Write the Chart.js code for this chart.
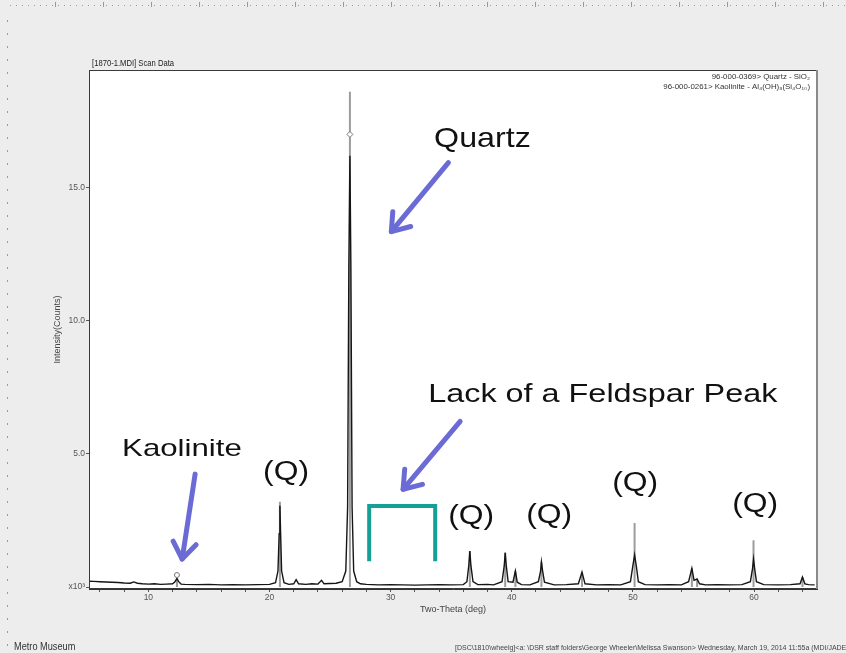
<!DOCTYPE html>
<html><head><meta charset="utf-8">
<script src="https://cdn.jsdelivr.net/npm/chart.js@4/dist/chart.umd.min.js"></script>
<style>html,body{margin:0;padding:0;background:#ededed;overflow:hidden}</style>
</head><body>
<canvas id="c" width="846" height="653"></canvas>
<script>
// ---- measured scan (Two-Theta in deg, Intensity in x10^3 counts) ----
const twoTheta = [5.0,5.5,6.0,6.5,7.0,7.5,8.0,8.5,8.8,9.1,9.5,10.0,10.5,11.0,11.5,12.0,12.2,12.36,12.5,12.7,13.0,14.0,15.0,16.0,17.0,18.0,19.0,20.0,20.5,20.7,20.8,20.86,20.92,21.0,21.2,21.6,22.0,22.2,22.4,23.0,23.5,24.0,24.3,24.5,25.0,25.5,26.0,26.3,26.45,26.55,26.64,26.72,26.82,26.95,27.2,27.5,28.0,29.0,30.0,31.0,32.0,33.0,34.0,35.0,36.0,36.3,36.45,36.54,36.63,36.8,37.2,38.0,38.5,39.2,39.38,39.46,39.55,39.7,40.1,40.3,40.45,40.8,41.5,42.2,42.38,42.45,42.55,42.7,43.5,44.5,45.5,45.8,46.05,47.0,48.0,49.0,49.8,50.0,50.14,50.28,50.45,51.0,52.0,53.0,54.0,54.6,54.87,55.05,55.3,55.5,56.0,57.0,58.0,59.0,59.7,59.88,59.96,60.05,60.2,60.8,62.0,63.0,63.8,64.0,64.2,64.5,65.0];
const intensity = [0.22,0.21,0.20,0.19,0.18,0.17,0.15,0.14,0.19,0.14,0.12,0.11,0.12,0.10,0.11,0.12,0.20,0.32,0.20,0.11,0.10,0.09,0.10,0.08,0.09,0.08,0.09,0.10,0.16,0.6,2.0,3.05,2.0,0.6,0.16,0.10,0.12,0.28,0.12,0.10,0.12,0.11,0.25,0.12,0.13,0.14,0.2,0.6,3.0,12.0,16.2,12.0,3.0,0.6,0.2,0.12,0.10,0.08,0.09,0.08,0.07,0.08,0.09,0.08,0.09,0.2,0.8,1.35,0.8,0.2,0.09,0.10,0.08,0.2,0.8,1.28,0.8,0.2,0.18,0.6,0.18,0.09,0.08,0.2,0.6,0.94,0.6,0.18,0.08,0.09,0.12,0.56,0.12,0.08,0.09,0.08,0.2,0.8,1.2,0.8,0.2,0.09,0.08,0.09,0.08,0.2,0.7,0.25,0.3,0.12,0.08,0.09,0.08,0.09,0.2,0.7,1.05,0.7,0.2,0.09,0.08,0.09,0.12,0.37,0.12,0.09,0.08];

// ---- reference lines ----
const quartzLines = [20.86,26.64,36.54,39.46,40.3,42.45,45.8,50.14,54.87,55.3,59.96,64.0];
const quartzHeights = [3.2,18.6,1.35,1.3,0.6,0.94,0.56,2.4,0.7,0.3,1.76,0.37];
const kaoliniteLines = [12.36];
const kaoliniteHeights = [0.3];
const peakMarkX = [26.64,12.36];
const peakMarkY = [17.0,0.45];

// ---- axis ticks ----
const xTicks = [6,8,10,12,14,16,18,20,22,24,26,28,30,32,34,36,38,40,42,44,46,48,50,52,54,56,58,60,62,64];
const xLabelled = [10,20,30,40,50,60];
const yTicks = [0,5,10,15];
const yTickLabels = ['x10³','5.0','10.0','15.0'];

// ---- annotations (data coordinates) ----
const noteTexts = ['Quartz','Kaolinite','Lack of a Feldspar Peak','(Q)','(Q)','(Q)','(Q)','(Q)'];
const noteX = [33.59,7.83,33.10,19.47,34.75,41.19,48.29,58.20];
const noteY = [16.54,4.91,6.94,4.01,2.36,2.40,3.60,2.81];
const arrowFromX = [34.77,35.74,13.86];
const arrowFromY = [15.94,6.22,4.24];
const arrowToX = [30.06,31.03,12.79];
const arrowToY = [13.35,3.67,1.05];
const bracketX = [28.23,33.68];
const bracketY = [0.97,3.04];

const headerTitle = '[1870-1.MDI] Scan Data';
const legendLines = ['96-000-0369> Quartz - SiO₂','96-000-0261> Kaolinite - Al₄(OH)₈(Si₄O₁₀)'];
const yTitle = 'Intensity(Counts)';
const xTitle = 'Two-Theta (deg)';
const footerLeft = 'Metro Museum';
const footerRight = '[DSC\\1810\\wheelg]<a: \\DSR staff folders\\George Wheeler\\Melissa Swanson> Wednesday, March 19, 2014 11:55a (MDI/JADE';

const scanData = twoTheta.map((x,i)=>({x, y: intensity[i]}));
const sticks = [];
quartzLines.forEach((x,i)=>{ sticks.push({x,y:0},{x,y:quartzHeights[i]},{x,y:null}); });
kaoliniteLines.forEach((x,i)=>{ sticks.push({x,y:0},{x,y:kaoliniteHeights[i]},{x,y:null}); });
const marks = peakMarkX.map((x,i)=>({x,y:peakMarkY[i]}));

const SANS = '"Liberation Sans", Arial, sans-serif';

function txt(ctx, s, x, y, size, sx, align, color){
  ctx.save();
  ctx.font = size + 'px ' + SANS;
  ctx.fillStyle = color || '#111';
  ctx.textBaseline = 'alphabetic';
  const w = ctx.measureText(s).width * sx;
  let x0 = x;
  if (align === 'right') x0 = x - w;
  if (align === 'center') x0 = x - w/2;
  ctx.translate(x0, y);
  ctx.scale(sx, 1);
  ctx.fillText(s, 0, 0);
  ctx.restore();
}

const decor = {
  id: 'decor',
  beforeDraw(chart){
    const ctx = chart.ctx, a = chart.chartArea;
    ctx.save();
    ctx.fillStyle = '#ededed';
    ctx.fillRect(0,0,chart.width,chart.height);
    ctx.fillStyle = '#ffffff';
    ctx.fillRect(a.left, a.top, a.right-a.left, a.bottom-a.top);
    // dotted rulers
    ctx.fillStyle = '#9a9a9a';
    for (let x = 10; x < chart.width; x += 6) ctx.fillRect(x, 5, 1, 1);
    for (let x = 55; x < chart.width; x += 48) ctx.fillRect(x, 2, 1, 5);
    for (let y = 20; y < chart.height; y += 13) ctx.fillRect(7, y, 1, 2);
    ctx.restore();
  },
  afterDatasetsDraw(chart){
    const ctx = chart.ctx, a = chart.chartArea;
    const xs = chart.scales.x, ys = chart.scales.y;
    ctx.save();
    // frame
    ctx.strokeStyle = '#3a3a3a'; ctx.lineWidth = 1;
    ctx.strokeRect(a.left+0.5, a.top+0.5, a.right-a.left-1, a.bottom-a.top-1);
    ctx.strokeStyle = '#8a8a8a'; ctx.lineWidth = 2;
    ctx.beginPath(); ctx.moveTo(a.right, a.top); ctx.lineTo(a.right, a.bottom); ctx.stroke();
    // header texts
    txt(ctx, headerTitle, a.left+3, a.top-4, 9, 0.85, 'left', '#222');
    txt(ctx, legendLines[0], a.right-7, a.top+9, 7.5, 1.05, 'right', '#333');
    txt(ctx, legendLines[1], a.right-7, a.top+19, 7.5, 1.05, 'right', '#333');
    // axis titles
    ctx.save();
    ctx.translate(60, (a.top+a.bottom)/2);
    ctx.rotate(-Math.PI/2);
    txt(ctx, yTitle, 0, 0, 9, 1.0, 'center', '#444');
    ctx.restore();
    txt(ctx, xTitle, (a.left+a.right)/2, 612, 9.5, 0.95, 'center', '#444');
    txt(ctx, footerLeft, 14, 650, 10, 0.92, 'left', '#333');
    txt(ctx, footerRight, 455, 650, 7, 1.0, 'left', '#444');
    // teal bracket
    ctx.strokeStyle = '#14a097'; ctx.lineWidth = 4; ctx.lineCap = 'butt'; ctx.lineJoin = 'miter';
    ctx.beginPath();
    ctx.moveTo(xs.getPixelForValue(bracketX[0]), ys.getPixelForValue(bracketY[0]));
    ctx.lineTo(xs.getPixelForValue(bracketX[0]), ys.getPixelForValue(bracketY[1]));
    ctx.lineTo(xs.getPixelForValue(bracketX[1]), ys.getPixelForValue(bracketY[1]));
    ctx.lineTo(xs.getPixelForValue(bracketX[1]), ys.getPixelForValue(bracketY[0]));
    ctx.stroke();
    // arrows
    ctx.strokeStyle = '#6b6bd6'; ctx.lineWidth = 5; ctx.lineCap = 'round'; ctx.lineJoin = 'round';
    for (let i = 0; i < arrowFromX.length; i++){
      const x1 = xs.getPixelForValue(arrowFromX[i]), y1 = ys.getPixelForValue(arrowFromY[i]);
      const x2 = xs.getPixelForValue(arrowToX[i]), y2 = ys.getPixelForValue(arrowToY[i]);
      const ang = Math.atan2(y2-y1, x2-x1);
      ctx.beginPath(); ctx.moveTo(x1,y1); ctx.lineTo(x2,y2); ctx.stroke();
      const L = 20, s = 0.62;
      ctx.beginPath();
      ctx.moveTo(x2 - L*Math.cos(ang - s), y2 - L*Math.sin(ang - s));
      ctx.lineTo(x2, y2);
      ctx.lineTo(x2 - L*Math.cos(ang + s), y2 - L*Math.sin(ang + s));
      ctx.stroke();
    }
    // annotation texts
    const sizes = [28,24,25.5,27,27,27,27,27];
    const scales = [1.15,1.3,1.27,1.18,1.18,1.18,1.18,1.18];
    noteTexts.forEach((s,i)=>{
      txt(ctx, s, xs.getPixelForValue(noteX[i]), ys.getPixelForValue(noteY[i]), sizes[i], scales[i], 'left', '#111');
    });
    ctx.restore();
  }
};

new Chart(document.getElementById('c'), {
  type: 'line',
  data: {
    datasets: [
      { label: 'Scan', data: scanData, borderColor: '#151515', borderWidth: 1.4, pointRadius: 0, tension: 0, order: 1 },
      { label: 'Reference', data: sticks, borderColor: '#9c9c9c', borderWidth: 2, pointRadius: 0, spanGaps: false, order: 2 },
      { label: 'Marks', data: marks, showLine: false, pointStyle: ['rectRot','circle'], pointRadius: [3,2.5], pointBackgroundColor: '#ffffff', pointBorderColor: '#777', pointBorderWidth: 1, order: 0 }
    ]
  },
  options: {
    responsive: false,
    animation: false,
    devicePixelRatio: 1,
    layout: { padding: { left: 0, top: 70, right: 29, bottom: 0 } },
    plugins: { legend: { display: false }, tooltip: { enabled: false } },
    scales: {
      x: {
        type: 'linear', min: 5.1, max: 65.2,
        afterFit(s){ s.height = 653 - 589; },
        afterBuildTicks(s){ s.ticks = xTicks.map(v=>({value:v})); },
        ticks: { autoSkip: false, maxRotation: 0, padding: 1, color: '#555', font: { family: SANS, size: 8.5 },
          callback(v){ return xLabelled.includes(v) ? String(v) : ''; } },
        grid: { drawOnChartArea: false, tickLength: 3, color: '#555' },
        border: { display: true, color: '#333' }
      },
      y: {
        type: 'linear', min: -0.075, max: 19.42,
        afterFit(s){ s.width = 89; },
        afterBuildTicks(s){ s.ticks = yTicks.map(v=>({value:v})); },
        ticks: { padding: 1, color: '#555', font: { family: SANS, size: 8.5 },
          callback(v){ const i = yTicks.indexOf(v); return i >= 0 ? yTickLabels[i] : ''; } },
        grid: { drawOnChartArea: false, tickLength: 3, color: '#555' },
        border: { display: true, color: '#333' }
      }
    }
  },
  plugins: [decor]
});
</script>
</body></html>
